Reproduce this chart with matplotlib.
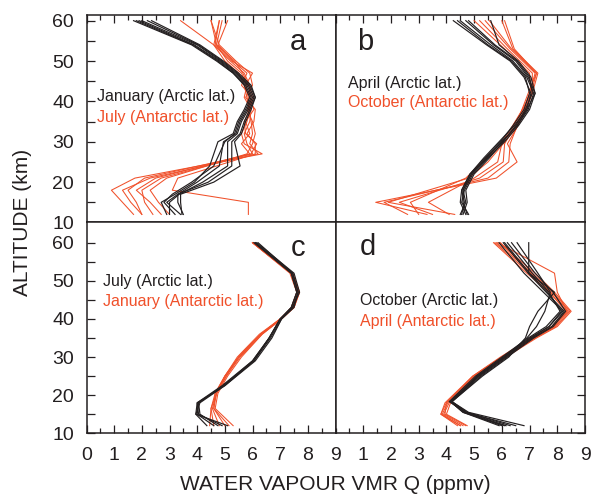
import matplotlib
matplotlib.use("Agg")
import matplotlib.pyplot as plt
from matplotlib.ticker import MultipleLocator, FixedLocator

plt.rcParams['font.family'] = ['Liberation Sans', 'DejaVu Sans']

BLACK = '#231f20'
RED = '#f0502a'

# panel a: January (Arctic) vs July (Antarctic)
A_ALT_BLACK = [60, 54, 50, 47, 44, 41, 38, 35, 32, 30, 24, 20, 17, 15, 12]
A_BLACK = [
    [1.7, 3.8, 4.7, 5.3, 5.7, 5.9, 5.7, 5.45, 5.3, 4.75, 4.45, 3.9, 3.2, 2.7, 2.9],
    [1.9, 3.9, 4.8, 5.35, 5.8, 6.0, 5.8, 5.55, 5.4, 4.95, 4.8, 4.0, 3.3, 2.9, 3.4],
    [2.0, 4.0, 4.85, 5.4, 5.85, 6.05, 5.85, 5.6, 5.45, 5.1, 5.1, 4.2, 3.35, 3.0, 3.0],
    [2.2, 4.05, 4.9, 5.45, 5.9, 6.1, 5.9, 5.7, 5.55, 5.25, 5.25, 4.4, 3.3, 3.3, 3.5],
    [2.35, 4.1, 4.95, 5.5, 5.95, 6.1, 5.95, 5.75, 5.6, 5.35, 5.55, 4.6, 3.4, 3.4, 3.45],
    [1.8, 3.85, 4.75, 5.3, 5.75, 5.95, 5.75, 5.5, 5.35, 5.0, 4.6, 3.8, 3.1, 2.8, 3.2],
]
A_ALT_RED = [60, 54, 50, 47, 44, 41, 38, 35, 32, 29.5, 27, 21, 18, 15, 12]
A_RED = [
    [3.4, 4.6, 5.0, 5.5, 5.7, 5.8, 5.9, 5.8, 5.6, 5.7, 6.35, 1.75, 0.9, 1.3, 1.7],
    [4.5, 4.7, 5.1, 5.6, 5.8, 5.7, 5.95, 5.9, 5.7, 5.8, 6.0, 2.1, 1.5, 1.8, 2.0],
    [4.8, 4.6, 5.2, 5.7, 5.9, 5.9, 6.05, 5.75, 5.9, 5.6, 5.9, 2.5, 1.8, 2.3, 2.7],
    [5.1, 4.75, 5.3, 5.8, 5.6, 6.0, 5.8, 6.0, 6.1, 6.0, 5.8, 2.9, 2.3, 2.6, 3.0],
    [4.5, 4.8, 5.4, 5.9, 6.0, 5.75, 6.1, 6.05, 5.8, 6.1, 6.1, 3.3, 3.1, 5.85, 5.85],
    [4.8, 4.65, 5.25, 6.0, 5.75, 5.85, 5.85, 5.95, 6.0, 5.9, 6.2, 2.3, 1.3, 1.6, 2.0],
    [4.9, 4.7, 5.35, 5.65, 5.85, 6.05, 5.9, 5.7, 5.75, 6.15, 5.95, 2.7, 2.0, 2.1, 2.4],
]

# panel b: April (Arctic) vs October (Antarctic)
B_ALT_BLACK = [60, 54, 50, 46, 42, 38, 34, 30, 26, 22, 18, 15, 12]
B_BLACK = [
    [4.25, 5.45, 6.3, 6.8, 7.05, 6.9, 6.45, 5.9, 5.35, 4.85, 4.55, 4.5, 4.7],
    [4.5, 5.6, 6.4, 6.9, 7.15, 6.95, 6.55, 6.0, 5.45, 4.9, 4.6, 4.7, 4.5],
    [4.7, 5.7, 6.5, 6.95, 7.2, 7.0, 6.6, 6.1, 5.5, 4.95, 4.65, 4.55, 4.8],
    [4.8, 5.75, 6.55, 7.0, 7.1, 6.85, 6.5, 6.05, 5.55, 5.0, 4.7, 4.75, 4.6],
    [5.6, 5.9, 6.6, 7.05, 7.2, 6.9, 6.55, 6.0, 5.45, 4.9, 4.6, 4.6, 4.75],
    [4.4, 5.5, 6.35, 6.85, 7.0, 6.8, 6.4, 5.95, 5.4, 4.85, 4.55, 4.65, 4.55],
]
B_ALT_RED = [60, 53, 47, 42, 37.5, 33, 29.5, 25, 21, 15, 12]
B_RED = [
    [5.0, 6.1, 7.0, 7.05, 6.8, 6.5, 6.2, 6.55, 5.8, 1.45, 3.3],
    [5.2, 6.2, 7.1, 7.1, 6.85, 6.5, 6.3, 6.25, 5.5, 1.75, 2.6],
    [5.4, 6.3, 7.2, 7.0, 6.75, 6.4, 6.1, 6.05, 5.2, 2.3, 3.5],
    [5.55, 6.35, 7.25, 7.05, 6.7, 6.35, 6.0, 5.85, 5.0, 3.35, 4.1],
    [6.0, 6.4, 7.3, 7.1, 6.8, 6.45, 6.05, 5.5, 4.8, 1.9, 4.3],
    [6.1, 6.45, 7.25, 6.95, 6.7, 6.3, 5.95, 5.3, 4.7, 2.7, 3.0],
]

# panel c: July (Arctic) vs January (Antarctic)
C_ALT_BLACK = [60, 52, 47, 43, 40, 35, 29, 22.5, 18, 15, 12]
C_BLACK = [
    [6.05, 7.4, 7.6, 7.4, 7.0, 6.6, 6.0, 4.9, 4.0, 3.95, 4.35],
    [6.1, 7.45, 7.65, 7.45, 7.05, 6.65, 6.05, 4.95, 4.05, 4.0, 4.6],
    [6.15, 7.5, 7.7, 7.45, 7.0, 6.6, 6.05, 5.0, 4.0, 4.05, 4.9],
    [6.2, 7.45, 7.65, 7.5, 7.05, 6.7, 6.1, 5.0, 4.1, 3.95, 5.1],
    [6.1, 7.4, 7.6, 7.4, 7.0, 6.6, 6.0, 4.95, 4.05, 4.1, 4.75],
]
C_ALT_RED = [60, 52, 47, 43, 40, 36, 30, 25, 20.5, 16.5, 12]
C_RED = [
    [6.0, 7.35, 7.6, 7.4, 7.0, 6.3, 5.5, 5.0, 4.65, 4.5, 4.6],
    [6.0, 7.4, 7.65, 7.45, 7.05, 6.35, 5.55, 5.05, 4.7, 4.55, 4.8],
    [6.05, 7.45, 7.7, 7.5, 7.05, 6.3, 5.5, 5.05, 4.7, 4.6, 5.0],
    [6.0, 7.4, 7.65, 7.45, 7.0, 6.25, 5.45, 5.0, 4.65, 4.6, 5.15],
    [6.05, 7.45, 7.7, 7.5, 7.05, 6.35, 5.6, 5.1, 4.75, 4.65, 5.3],
    [6.0, 7.4, 7.65, 7.45, 7.0, 6.3, 5.5, 5.0, 4.7, 4.5, 4.45],
]

# panel d: October (Arctic) vs April (Antarctic)
D_ALT_BLACK = [60, 52, 47, 42, 38, 35, 30, 25, 18.3, 15.5, 12]
D_BLACK = [
    [5.9, 6.8, 7.5, 8.2, 7.7, 7.0, 6.05, 5.1, 4.15, 4.6, 5.9],
    [6.05, 6.95, 7.6, 8.25, 7.8, 7.1, 6.15, 5.2, 4.15, 4.65, 6.0],
    [6.2, 7.1, 7.7, 8.1, 7.6, 6.95, 6.0, 5.05, 4.1, 4.7, 6.15],
    [6.35, 7.2, 7.85, 8.3, 7.85, 7.15, 6.2, 5.25, 4.2, 4.75, 6.3],
    [6.55, 7.3, 7.75, 7.55, 7.25, 6.9, 6.1, 5.15, 4.2, 4.8, 6.8],
    [6.97, 6.97, 7.9, 7.3, 7.0, 6.85, 6.25, 5.3, 4.2, 4.7, 6.5],
    [6.1, 7.0, 7.65, 8.15, 7.7, 7.05, 6.1, 5.15, 4.15, 4.6, 6.1],
]
D_ALT_RED = [60, 52, 47, 42, 38, 35, 30, 25, 18, 15, 12]
D_RED = [
    [5.7, 6.9, 7.7, 8.35, 7.85, 7.1, 6.0, 5.0, 4.0, 3.8, 4.4],
    [5.75, 7.0, 7.8, 8.4, 7.9, 7.15, 6.05, 5.05, 4.05, 3.85, 4.5],
    [5.8, 7.1, 7.85, 8.45, 7.95, 7.2, 6.1, 5.1, 4.1, 3.9, 4.6],
    [5.85, 7.9, 8.0, 8.35, 7.85, 7.1, 6.0, 4.95, 4.0, 3.95, 4.7],
    [5.9, 7.2, 7.9, 8.5, 8.0, 7.25, 6.15, 5.15, 4.15, 4.0, 4.75],
    [5.95, 7.05, 7.75, 8.3, 7.8, 7.05, 5.95, 4.95, 3.95, 3.8, 4.5],
]

LABELS = {
    'a': ('January (Arctic lat.)', 'July (Antarctic lat.)'),
    'b': ('April (Arctic lat.)', 'October (Antarctic lat.)'),
    'c': ('July (Arctic lat.)', 'January (Antarctic lat.)'),
    'd': ('October (Arctic lat.)', 'April (Antarctic lat.)'),
}

fig = plt.figure(figsize=(5.95, 4.94), dpi=100)

ax_a = fig.add_axes([0.1454, 0.5496, 0.4185, 0.4200])
ax_b = fig.add_axes([0.5639, 0.5496, 0.4193, 0.4200])
ax_c = fig.add_axes([0.1454, 0.1229, 0.4185, 0.4267])
ax_d = fig.add_axes([0.5639, 0.1229, 0.4193, 0.4267])

panels = [
    (ax_a, 'a', A_ALT_BLACK, A_BLACK, A_ALT_RED, A_RED, 61.4, 'left', 'top'),
    (ax_b, 'b', B_ALT_BLACK, B_BLACK, B_ALT_RED, B_RED, 61.4, 'right', 'top'),
    (ax_c, 'c', C_ALT_BLACK, C_BLACK, C_ALT_RED, C_RED, 65.3, 'left', 'bottom'),
    (ax_d, 'd', D_ALT_BLACK, D_BLACK, D_ALT_RED, D_RED, 65.3, 'right', 'bottom'),
]

# text positions (axes fraction): black label, red label, panel letter
TEXT_POS = {
    'a': ((0.042, 0.606), (0.042, 0.504), (0.849, 0.87)),
    'b': ((0.05, 0.672), (0.05, 0.576), (0.118, 0.87)),
    'c': ((0.066, 0.718), (0.066, 0.623), (0.849, 0.879)),
    'd': ((0.098, 0.628), (0.098, 0.528), (0.13, 0.884)),
}

for ax, key, alt_k, black, alt_r, red, ytop, yside, xside in panels:
    for prof in red:
        ax.plot(prof, alt_r, color=RED, lw=0.75)
    for prof in black:
        ax.plot(prof, alt_k, color=BLACK, lw=0.85)

    ax.set_xlim(0, 9)
    ax.set_ylim(10, ytop)
    for s in ax.spines.values():
        s.set_linewidth(1.1)
        s.set_color(BLACK)

    ax.xaxis.set_major_locator(MultipleLocator(1))
    ax.xaxis.set_minor_locator(MultipleLocator(0.5))
    ax.yaxis.set_major_locator(FixedLocator([10, 20, 30, 40, 50, 60]))
    ax.yaxis.set_minor_locator(FixedLocator([15, 25, 35, 45, 55]))

    ax.tick_params(which='both', direction='in', color=BLACK, width=0.9,
                   labelsize=14, labelcolor=BLACK,
                   top=(xside == 'top'), bottom=(xside == 'bottom'),
                   left=(yside == 'left'), right=(yside == 'right'),
                   labeltop=False, labelbottom=(xside == 'bottom'),
                   labelleft=(yside == 'left'), labelright=False)
    ax.tick_params(which='major', length=6)
    ax.tick_params(which='minor', length=3.5)
    ax.tick_params(axis='y', which='minor', length=6)
    ax.tick_params(axis='x', which='major', pad=10)
    ax.tick_params(axis='y', which='major', pad=9)

    (bx, by), (rx, ry), (lx, ly) = TEXT_POS[key]
    ax.text(bx, by, LABELS[key][0], transform=ax.transAxes, color=BLACK,
            fontsize=11.5, va='center', ha='left')
    ax.text(rx, ry, LABELS[key][1], transform=ax.transAxes, color=RED,
            fontsize=11.5, va='center', ha='left')
    ax.text(lx, ly, key, transform=ax.transAxes, color=BLACK,
            fontsize=21, va='center', ha='center')

ax_d.set_xticks(range(1, 10))

fig.text(0.563, 0.02, 'WATER VAPOUR VMR Q (ppmv)', ha='center', va='center',
         fontsize=15, color=BLACK)
fig.text(0.037, 0.55, 'ALTITUDE (km)', ha='center', va='center',
         rotation=90, fontsize=15, color=BLACK)

fig.savefig('out.png', dpi=100)
